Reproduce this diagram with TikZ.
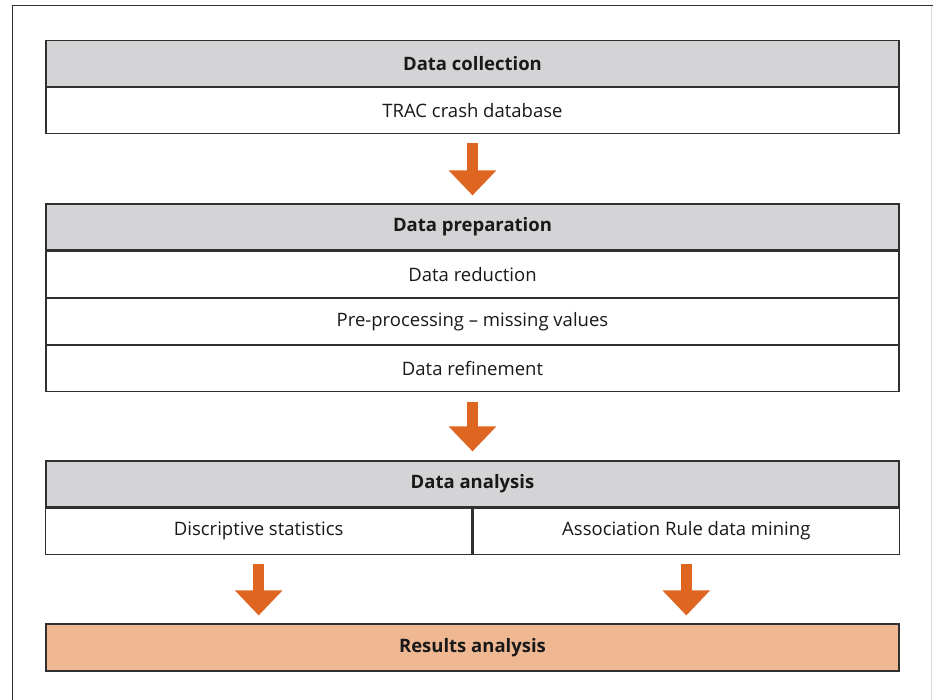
\documentclass[tikz,border=0pt]{standalone}
\usepackage{fontspec}
\setmainfont{Open Sans}
\usetikzlibrary{arrows.meta}
\definecolor{headgray}{HTML}{D4D4D6}
\definecolor{arroworange}{HTML}{DE6620}
\definecolor{resultfill}{HTML}{F0B892}
\definecolor{framegray}{HTML}{303030}
\begin{document}
\begin{tikzpicture}[x=1pt,y=-1pt,
  cell/.style={draw=framegray, line width=1.1pt, minimum width=853pt, minimum height=46pt,
    inner sep=0pt, font=\fontsize{18.5}{20}\selectfont, text=black!90},
  header/.style={cell, fill=headgray, font=\fontsize{18.5}{20}\selectfont\bfseries},
  halfcell/.style={cell, minimum width=426.5pt},
  result/.style={cell, fill=resultfill, minimum height=47pt, font=\fontsize{18.5}{20}\selectfont\bfseries},
  blockarrow/.style={draw=arroworange, line width=11pt,
    -{Triangle[width=46pt,length=25pt,fill=arroworange]}}]
  \useasboundingbox (0,0) rectangle (933,700);
  \fill[white] (0,0) rectangle (933,700);
  % outer frame
  \draw[framegray, line width=1pt] (12,700) -- (12,6) -- (933,6);
  \draw[black!15, line width=1pt] (931.5,6) -- (931.5,700);

  % stage 1
  \node[header] (h1) at (472.5,63.5) {Data collection};
  \node[cell, anchor=north] (r1) at (h1.south) {TRAC crash database};

  % stage 2
  \node[header] (h2) at (472.5,227) {Data preparation};
  \node[cell, anchor=north] (r2a) at (h2.south) {Data reduction};
  \node[cell, anchor=north] (r2b) at (r2a.south) {Pre-processing -- missing values};
  \node[cell, anchor=north] (r2c) at (r2b.south) {Data refinement};

  % stage 3
  \node[header] (h3) at (472.5,484) {Data analysis};
  \node[halfcell, anchor=north east] (r3a) at (h3.south) {Discriptive statistics};
  \node[halfcell, anchor=north west] (r3b) at (h3.south) {Association Rule data mining};

  % stage 4
  \node[result] (res) at (472.5,647.5) {Results analysis};

  % flow arrows (yshift works on the page, so negative is downwards)
  \coordinate (a1s) at ([yshift=-9pt]r1.south);
  \coordinate (a1e) at ([yshift=8pt]h2.north);
  \coordinate (a2s) at ([yshift=-10pt]r2c.south);
  \coordinate (a2e) at ([yshift=9pt]h3.north);
  \coordinate (a3s) at ([yshift=-9pt]r3a.south);
  \coordinate (a3e) at ([yshift=8pt]res.north -| r3a.south);
  \coordinate (a4s) at ([yshift=-9pt]r3b.south);
  \coordinate (a4e) at ([yshift=8pt]res.north -| r3b.south);
  \draw[blockarrow] (a1s) -- (a1e);
  \draw[blockarrow] (a2s) -- (a2e);
  \draw[blockarrow] (a3s) -- (a3e);
  \draw[blockarrow] (a4s) -- (a4e);
\end{tikzpicture}
\end{document}
